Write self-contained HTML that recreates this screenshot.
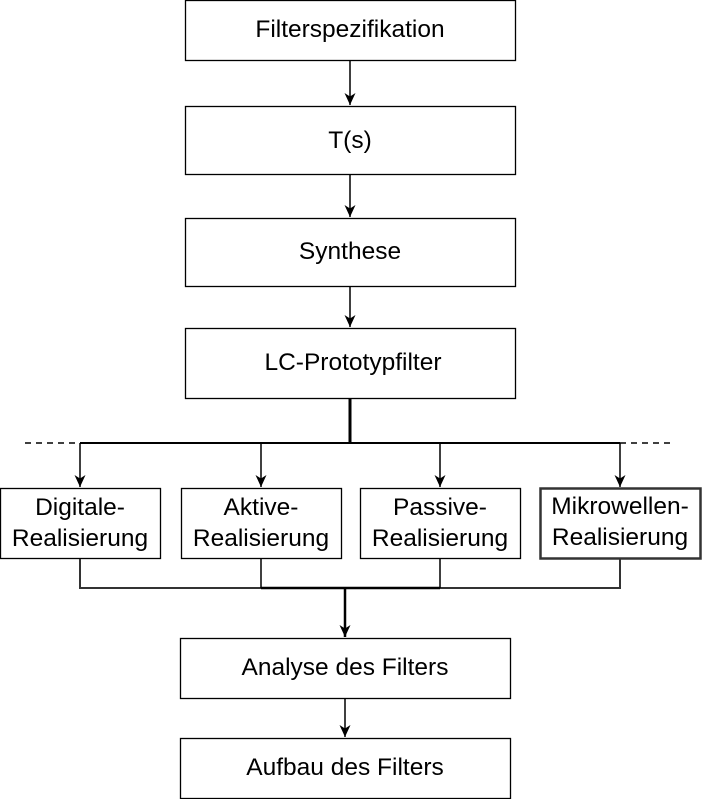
<!DOCTYPE html>
<html><head><style>body{margin:0;background:#fff}svg{display:block}text{font-family:"Liberation Sans",Arial,sans-serif;font-size:24.5px;fill:#000;text-anchor:middle}</style></head>
<body>
<svg width="702" height="799" viewBox="0 0 702 799">
<defs><marker id="a" markerWidth="14" markerHeight="14" refX="12" refY="6" orient="auto" markerUnits="userSpaceOnUse"><path d="M0,0.5 L12,6 L0,11.5 L3.5,6 Z" fill="#000"/></marker></defs>
<g fill="#fff" stroke="#000" stroke-width="1.3">
<rect x="185.5" y="0.5" width="330" height="60"/>
<rect x="185.5" y="106.5" width="330" height="68"/>
<rect x="185.5" y="218.5" width="330" height="68"/>
<rect x="185.5" y="328.5" width="330" height="70"/>
<rect x="0.5" y="488.5" width="160" height="70"/>
<rect x="181.5" y="488.5" width="160" height="70"/>
<rect x="360.5" y="488.5" width="160" height="70"/>
<rect x="540.5" y="488.5" width="160" height="70" stroke="#333" stroke-width="2.5"/>
<rect x="180.5" y="638.5" width="330" height="60"/>
<rect x="180.5" y="738.5" width="330" height="60"/>
</g>
<g stroke="#000" stroke-width="1.5" fill="none">
<line x1="350" y1="61" x2="350" y2="105" marker-end="url(#a)"/>
<line x1="350" y1="175" x2="350" y2="217" marker-end="url(#a)"/>
<line x1="350" y1="287" x2="350" y2="327" marker-end="url(#a)"/>
<line x1="350" y1="399" x2="350" y2="443" stroke-width="3"/>
<line x1="80" y1="443" x2="620" y2="443" stroke-width="2"/>
<line x1="25" y1="443" x2="80" y2="443" stroke-dasharray="6,5"/>
<line x1="620" y1="443" x2="675" y2="443" stroke-dasharray="6,5"/>
<line x1="80" y1="443" x2="80" y2="487" marker-end="url(#a)"/>
<line x1="261" y1="443" x2="261" y2="487" marker-end="url(#a)"/>
<line x1="440" y1="443" x2="440" y2="487" marker-end="url(#a)"/>
<line x1="620" y1="443" x2="620" y2="487" marker-end="url(#a)"/>
<polyline points="80,559 80,588 620,588 620,559" stroke="#333" stroke-width="2"/>
<line x1="261" y1="559" x2="261" y2="588"/>
<line x1="440" y1="559" x2="440" y2="588"/>
<line x1="261" y1="588" x2="440" y2="588" stroke-width="2.5"/>
<line x1="345" y1="588" x2="345" y2="637" stroke-width="2.5" marker-end="url(#a)"/>
<line x1="345" y1="699" x2="345" y2="737" marker-end="url(#a)"/>
</g>
<text x="350" y="37">Filterspezifikation</text>
<text x="350" y="148">T(s)</text>
<text x="350" y="259">Synthese</text>
<text x="353" y="370">LC-Prototypfilter</text>
<text x="80" y="515">Digitale-</text><text x="80" y="546">Realisierung</text>
<text x="261" y="515">Aktive-</text><text x="261" y="546">Realisierung</text>
<text x="440" y="515">Passive-</text><text x="440" y="546">Realisierung</text>
<text x="620" y="514">Mikrowellen-</text><text x="620" y="545">Realisierung</text>
<text x="345" y="675">Analyse des Filters</text>
<text x="345" y="775">Aufbau des Filters</text>
</svg>
</body></html>
